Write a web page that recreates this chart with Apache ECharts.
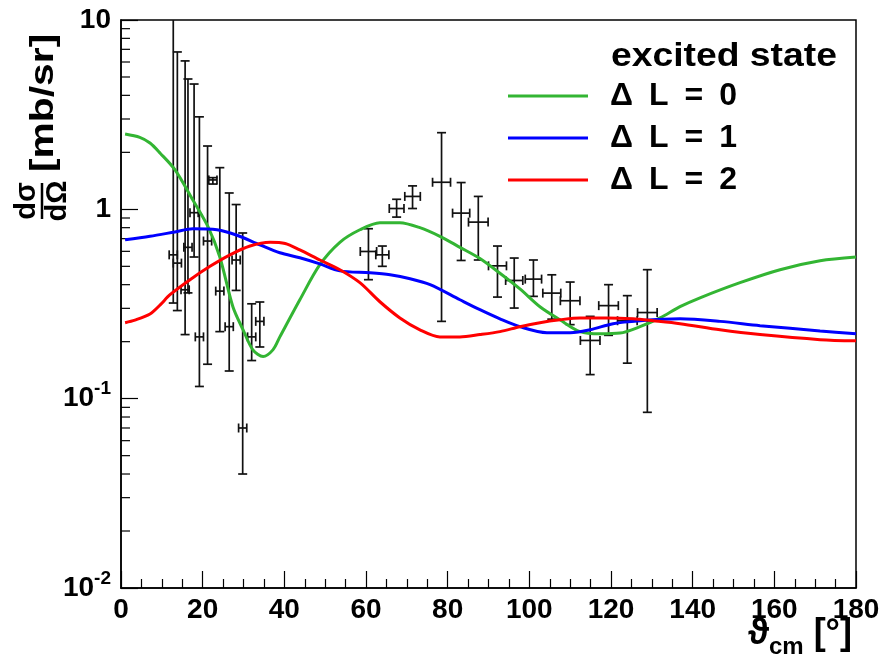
<!DOCTYPE html>
<html><head><meta charset="utf-8">
<script src="https://cdn.jsdelivr.net/npm/echarts@6/dist/echarts.min.js"></script>
<style>html,body{margin:0;padding:0;background:#fff}#c{width:889px;height:665px}</style>
</head><body><div id="c"></div>
<script>
// ---- theory curves (angle in deg, cross section in mb/sr) ----
const greenX = [1, 4.6, 7.1, 9.6, 13.2, 17.6, 21.3, 24.2, 27.4, 29.9, 32.3, 34.8, 37.2, 38.9, 43.8, 48.7, 53.6, 58.5, 63.4, 68.3, 73.2, 78.1, 83, 87.9, 92.8, 97.7, 102.6, 107.5, 112.4, 117.3, 122.2, 127.1, 132, 136.9, 141.8, 151.6, 161.4, 171.2, 180];
const greenY = [2.50, 2.40, 2.24, 1.98, 1.62, 1.12, 0.81, 0.56, 0.306, 0.231, 0.181, 0.167, 0.181, 0.212, 0.333, 0.51, 0.67, 0.78, 0.85, 0.85, 0.80, 0.72, 0.63, 0.55, 0.46, 0.38, 0.306, 0.261, 0.226, 0.220, 0.222, 0.24, 0.267, 0.306, 0.341, 0.41, 0.48, 0.535, 0.56];
const blueX = [1, 7.1, 13.2, 17.6, 23.5, 28.4, 34, 38.9, 43.8, 48.7, 53.6, 61, 65.9, 70.8, 75.7, 83, 87.9, 92.8, 97.7, 104.3, 110, 114.9, 120.5, 127.1, 136.9, 146.7, 156.5, 171.2, 180];
const blueY = [0.69, 0.72, 0.76, 0.79, 0.78, 0.73, 0.65, 0.59, 0.555, 0.515, 0.473, 0.462, 0.451, 0.43, 0.40, 0.333, 0.295, 0.264, 0.24, 0.223, 0.223, 0.231, 0.249, 0.258, 0.264, 0.256, 0.243, 0.228, 0.22];
const redX = [1, 3.4, 7.1, 9.6, 12, 16.9, 21.8, 26.7, 31.6, 36.5, 40.2, 43.8, 48.7, 53.6, 58.5, 63.4, 68.3, 73.2, 78.1, 83, 87.9, 92.8, 97.7, 102.6, 107.5, 112.4, 119, 125.4, 130.3, 136.9, 146.7, 156.5, 171.2, 180];
const redY = [0.252, 0.26, 0.28, 0.313, 0.354, 0.425, 0.50, 0.575, 0.64, 0.67, 0.66, 0.61, 0.54, 0.48, 0.41, 0.325, 0.267, 0.231, 0.212, 0.212, 0.218, 0.226, 0.24, 0.252, 0.261, 0.267, 0.267, 0.264, 0.258, 0.249, 0.231, 0.218, 0.205, 0.202];

// ---- measured data points ----
const pointX    = [12.8, 13.8, 15.7, 16.4, 17.9, 19.2, 21.2, 22.5, 24.2, 26.5, 28.2, 29.8, 32.0, 34.0, 60.6, 64.0, 67.5, 71.4, 78.5, 83.3, 87.5, 92.2, 96.3, 101.0, 105.5, 110.0, 114.9, 119.4, 124.0, 128.9];
const pointY    = [0.575, 0.52, 0.376, 0.63, 0.96, 0.212, 0.68, 1.43, 0.37, 0.24, 0.54, 0.070, 0.212, 0.256, 0.599, 0.575, 1.01, 1.17, 1.39, 0.955, 0.856, 0.503, 0.421, 0.428, 0.361, 0.329, 0.203, 0.31, 0.258, 0.285];
const pointXErr = [1, 1, 1, 1, 1, 1, 1, 1, 1, 1, 1, 1, 1, 1, 2.0, 1.6, 1.8, 1.9, 2.2, 2.1, 2.4, 2.2, 2.1, 2.0, 2.2, 2.4, 2.4, 2.4, 2.4, 2.4];
const pointYLow = [0.32, 0.292, 0.218, 0.362, 0.56, 0.116, 0.152, 1.36, 0.226, 0.14, 0.373, 0.040, 0.159, 0.1875, 0.425, 0.50, 0.91, 1.01, 0.256, 0.537, 0.54, 0.344, 0.301, 0.347, 0.263, 0.246, 0.134, 0.216, 0.154, 0.0847];
const pointYHigh= [12, 6.78, 6.08, 4.88, 4.59, 3.08, 2.16, 1.47, 1.66, 1.22, 1.06, 0.75, 0.317, 0.324, 0.79, 0.64, 1.13, 1.33, 2.54, 1.385, 1.17, 0.64, 0.553, 0.54, 0.451, 0.413, 0.272, 0.40, 0.35, 0.48];

// ---- axis ticks / labels ----
const xTickInterval = 20;
const yMinorTickValues = [0.02,0.03,0.04,0.05,0.06,0.07,0.08,0.09,0.2,0.3,0.4,0.5,0.6,0.7,0.8,0.9,2,3,4,5,6,7,8,9];
const seriesNames = ['\u0394 L = 0', '\u0394 L = 1', '\u0394 L = 2'];
const seriesColors = ['#33b533', '#0000ff', '#ff0000'];
const legendTitle = 'excited state';

const FONT = '"Liberation Sans", Arial, Helvetica, sans-serif';
const zip = (xs, ys) => xs.map((x, i) => [x, ys[i]]);

const chart = echarts.init(document.getElementById('c'), null, {renderer: 'canvas'});

function renderErr(params, api) {
  const x = api.value(0), y = api.value(1), ex = api.value(2), lo = api.value(3), hi = api.value(4);
  const c = api.coord([x, y]);
  const t = api.coord([x, hi]), b = api.coord([x, lo]);
  const l = api.coord([x - ex, y]), r = api.coord([x + ex, y]);
  const cap = 4.5;
  const st = {stroke: '#111', lineWidth: 1.7};
  const L = (x1, y1, x2, y2) => ({type: 'line', shape: {x1, y1, x2, y2}, style: st});
  return {type: 'group', children: [
    L(c[0], t[1], c[0], b[1]),
    L(c[0] - cap, t[1], c[0] + cap, t[1]),
    L(c[0] - cap, b[1], c[0] + cap, b[1]),
    L(l[0], c[1], r[0], c[1]),
    L(l[0], c[1] - cap, l[0], c[1] + cap),
    L(r[0], c[1] - cap, r[0], c[1] + cap)
  ]};
}

function renderMinor(params, api) {
  const p = api.coord([api.value(0), api.value(1)]);
  return {type: 'line', shape: {x1: p[0], y1: p[1], x2: p[0] + 9, y2: p[1]}, style: {stroke: '#000', lineWidth: 1.2}};
}

const curveSeries = [[greenX, greenY], [blueX, blueY], [redX, redY]].map((d, i) => ({
  name: seriesNames[i], type: 'line', data: zip(d[0], d[1]), showSymbol: false, symbol: 'none',
  smooth: 0.3, lineStyle: {color: seriesColors[i], width: 3}, itemStyle: {color: seriesColors[i]}, z: 5, silent: true
}));

chart.setOption({
  animation: false,
  backgroundColor: '#fff',
  grid: {left: 121, right: 33, top: 20, bottom: 77, show: true, borderColor: '#000', borderWidth: 1.5, backgroundColor: 'transparent'},
  xAxis: {
    type: 'value', min: 0, max: 180, interval: xTickInterval,
    axisLine: {show: true, lineStyle: {color: '#000', width: 1.5}},
    axisTick: {inside: true, length: 17, lineStyle: {color: '#000', width: 1.2}},
    minorTick: {show: true, splitNumber: 4, length: 9, lineStyle: {color: '#000', width: 1.2}},
    splitLine: {show: false}, minorSplitLine: {show: false},
    axisLabel: {fontSize: 28, fontWeight: 'bold', color: '#000', fontFamily: FONT, margin: 8}
  },
  yAxis: {
    type: 'log', logBase: 10, min: 0.01, max: 10,
    axisLine: {show: true, lineStyle: {color: '#000', width: 1.5}},
    axisTick: {inside: true, length: 17, lineStyle: {color: '#000', width: 1.2}},
    splitLine: {show: false},
    axisLabel: {
      color: '#000', margin: 10, fontFamily: FONT,
      formatter: v => {
        const e = Math.round(Math.log10(v));
        if (e === 0) return '{n|1}';
        if (e === 1) return '{n|10}';
        return '{n|10}{s|' + e + '}';
      },
      rich: {
        n: {fontSize: 28, fontWeight: 'bold', color: '#000', fontFamily: FONT, lineHeight: 38},
        s: {fontSize: 19, fontWeight: 'bold', color: '#000', fontFamily: FONT, lineHeight: 19, verticalAlign: 'top'}
      }
    }
  },
  legend: {
    orient: 'vertical', left: 508, top: 75, padding: 0, itemGap: 0,
    itemWidth: 80, itemHeight: 3, icon: 'rect', selectedMode: false,
    data: seriesNames,
    formatter: n => n.replace(/ /g, '\u2002'),
    textStyle: {fontSize: 32, fontWeight: 'bold', color: '#000', fontFamily: FONT, lineHeight: 28, padding: [14, 0, 0, 17]}
  },
  graphic: [
    {type: 'text', x: 611, y: 57, scaleX: 1.13, style: {text: legendTitle, fontSize: 33, fontWeight: 'bold', fontFamily: FONT, fill: '#000', align: 'left', verticalAlign: 'middle'}},
    {type: 'group', x: 42, y: 219, rotation: Math.PI / 2, children: [
      {type: 'text', x: 18, y: -1, style: {text: 'd\u03c3', fontSize: 29, fontWeight: 'bold', fontFamily: FONT, fill: '#000', align: 'center', verticalAlign: 'bottom'}},
      {type: 'line', shape: {x1: 0, y1: 0, x2: 36, y2: 0}, style: {stroke: '#000', lineWidth: 2.5}},
      {type: 'text', x: 18, y: 1, style: {text: 'd\u03a9', fontSize: 29, fontWeight: 'bold', fontFamily: FONT, fill: '#000', align: 'center', verticalAlign: 'top'}},
      {type: 'text', x: 47, y: 2, scaleX: 1.2, style: {text: '[mb/sr]', fontSize: 34, fontWeight: 'bold', fontFamily: FONT, fill: '#000', align: 'left', verticalAlign: 'middle'}}
    ]},
    {type: 'text', x: 852, y: 609, style: {
      text: '{a|\u03d1}{s|cm}{a| [\u00b0]}', align: 'right', verticalAlign: 'top',
      rich: {
        a: {fontSize: 36, fontWeight: 'bold', fontFamily: FONT, fill: '#000', color: '#000', lineHeight: 50},
        s: {fontSize: 24, fontWeight: 'bold', fontFamily: FONT, fill: '#000', color: '#000', lineHeight: 24, verticalAlign: 'bottom'}
      }
    }}
  ],
  series: [
    {type: 'custom', name: 'data', renderItem: renderErr, clip: true, z: 3, silent: true,
     encode: {x: 0, y: 1},
     data: pointX.map((x, i) => [x, pointY[i], pointXErr[i], pointYLow[i], pointYHigh[i]])},
    {type: 'custom', name: 'yminor', renderItem: renderMinor, clip: false, z: 2, silent: true,
     encode: {x: 0, y: 1},
     data: yMinorTickValues.map(v => [0, v])},
    ...curveSeries
  ]
});
</script></body></html>
